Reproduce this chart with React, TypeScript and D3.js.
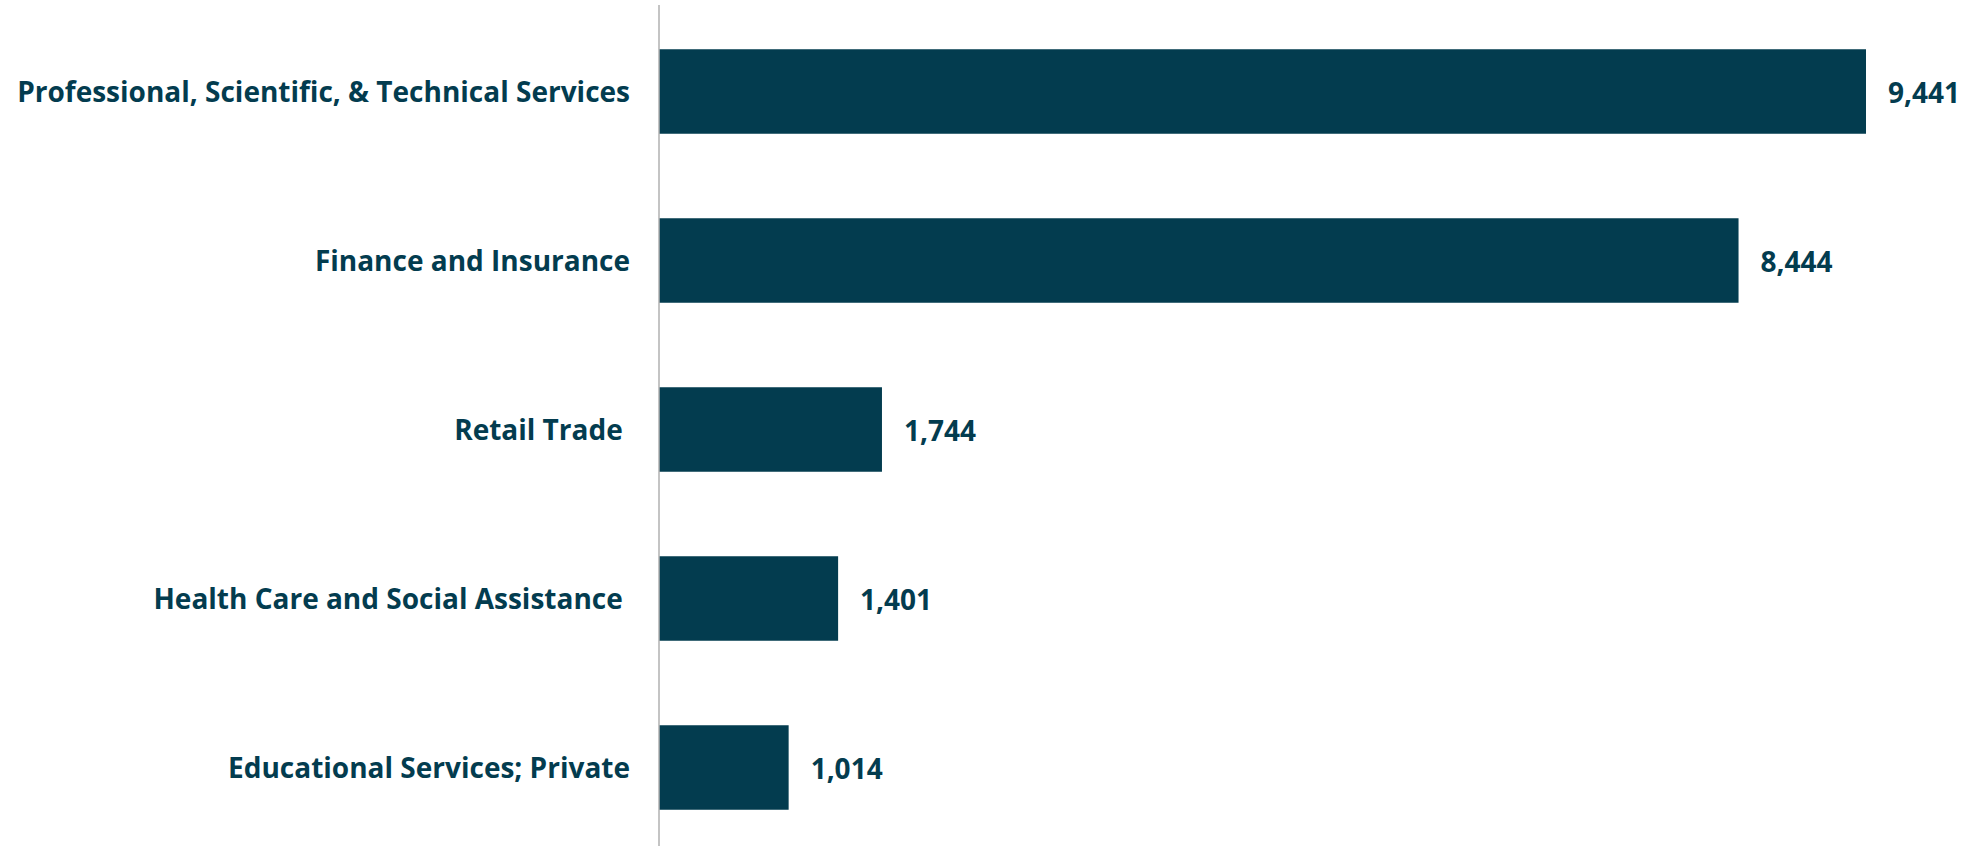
import React from "react";
import * as d3 from "d3";

const categories = [
  "Professional, Scientific, & Technical Services",
  "Finance and Insurance",
  "Retail Trade ",
  "Health Care and Social Assistance ",
  "Educational Services; Private",
];
const values = [9441, 8444, 1744, 1401, 1014];

const W = 1968;
const H = 846;
const COLOR = "#033c4f";

export default function App() {
  const x = d3.scaleLinear().domain([0, 9441]).range([659, 1866]);
  const y = d3
    .scaleBand<string>()
    .domain(categories)
    .range([7, 852])
    .paddingInner(0.5)
    .paddingOuter(0.25);
  const fmt = d3.format(",");
  return (
    <svg
      width={W}
      height={H}
      style={{ position: "absolute", left: 0, top: 0 }}
      fontFamily="'Open Sans', sans-serif"
    >
      {categories.map((c, i) => {
        const yc = y(c)! + y.bandwidth() / 2;
        return (
          <g key={c}>
            <rect
              x={x(0)}
              y={y(c)}
              width={x(values[i]) - x(0)}
              height={y.bandwidth()}
              fill={COLOR}
            />
            <text
              x={630}
              y={yc + 10}
              textAnchor="end"
              fontSize={28}
              fontWeight={700}
              fill={COLOR}
              style={{ whiteSpace: "pre" }}
            >
              {c}
            </text>
            <text
              x={x(values[i]) + 22}
              y={yc + 11.5}
              fontSize={28}
              fontWeight={700}
              fill={COLOR}
            >
              {fmt(values[i])}
            </text>
          </g>
        );
      })}
      <line x1={x(0)} x2={x(0)} y1={5} y2={H} stroke="#b0b0b0" strokeWidth={1.5} />
    </svg>
  );
}
